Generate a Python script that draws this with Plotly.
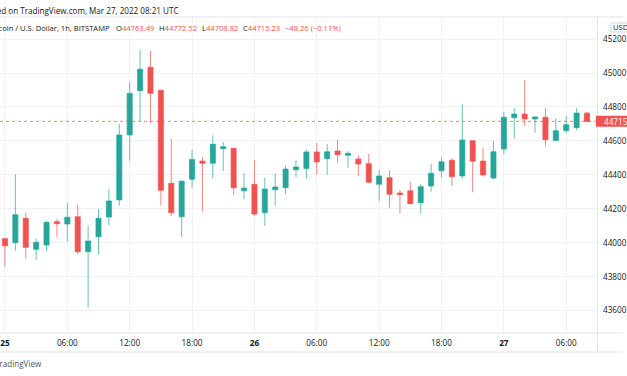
import plotly.graph_objects as go
import pandas as pd

# ---------------- data ----------------
times = pd.date_range("2022-03-25 00:00", periods=57, freq="h")

opens = [44024, 44000, 44144, 43961, 43986, 44124, 44110, 44153, 43947, 44035,
         44151, 44252, 44635, 44896, 45034, 44898, 44350, 44153, 44374, 44481,
         44468, 44554, 44556, 44306, 44344, 44177, 44312, 44324, 44430, 44438,
         44535, 44495, 44540, 44515, 44493, 44466, 44344, 44383, 44293, 44306,
         44236, 44334, 44424, 44486, 44393, 44601, 44481, 44381, 44552, 44737,
         44758, 44729, 44739, 44603, 44660, 44678, 44763.49]
highs = [44032, 44403, 44177, 44024, 44128, 44140, 44236, 44224, 44100, 44197,
         44316, 44700, 44947, 45136, 45130, 44900, 44611, 44368, 44546, 44505,
         44633, 44593, 44560, 44409, 44487, 44383, 44409, 44456, 44489, 44550,
         44588, 44582, 44605, 44540, 44515, 44523, 44428, 44428, 44311, 44358,
         44344, 44466, 44501, 44497, 44817, 44605, 44560, 44601, 44772, 44794,
         44959, 44745, 44792, 44733, 44745, 44792, 44772.52]
lows = [43859, 43953, 43906, 43898, 43951, 44035, 44006, 43932, 43619, 43932,
        44103, 44218, 44483, 44717, 44704, 44220, 44157, 44035, 44324, 44183,
        44380, 44422, 44281, 44256, 44157, 44100, 44218, 44287, 44387, 44377,
        44401, 44401, 44471, 44442, 44391, 44350, 44247, 44206, 44173, 44226,
        44171, 44301, 44385, 44334, 44377, 44297, 44389, 44375, 44523, 44613,
        44689, 44648, 44570, 44598, 44645, 44662, 44708.82]
closes = [43982, 44165, 43973, 44002, 44120, 44112, 44150, 43947, 44010, 44144,
          44246, 44635, 44880, 45022, 44880, 44309, 44177, 44362, 44491, 44468,
          44580, 44566, 44324, 44322, 44169, 44316, 44328, 44434, 44446, 44535,
          44476, 44536, 44519, 44527, 44464, 44356, 44393, 44285, 44283, 44230,
          44330, 44409, 44477, 44389, 44605, 44480, 44399, 44536, 44739, 44758,
          44729, 44741, 44607, 44660, 44695, 44764, 44715.23]

last_price = 44715.23

time_ticks = ["2022-03-25 00:00", "2022-03-25 06:00", "2022-03-25 12:00", "2022-03-25 18:00",
              "2022-03-26 00:00", "2022-03-26 06:00", "2022-03-26 12:00", "2022-03-26 18:00",
              "2022-03-27 00:00", "2022-03-27 06:00"]
time_labels = ["<b>25</b>", "06:00", "12:00", "18:00", "<b>26</b>", "06:00", "12:00",
               "18:00", "<b>27</b>", "06:00"]
price_ticks = [43600, 43800, 44000, 44200, 44400, 44600, 44800, 45000, 45200]

published_text = "Published on TradingView.com, Mar 27, 2022 08:21 UTC"
symbol_text = "Bitcoin / U.S. Dollar, 1h, BITSTAMP"
ohlc_labels = ["O", "H", "L", "C"]
ohlc_values = ["44763.49", "44772.52", "44708.82", "44715.23"]
change_text = "\u221248.26 (\u22120.11%)"
footer_text = "TradingView"

# ---------------- style ----------------
UP = "#26a69a"
DOWN = "#ef5350"
GRID = "#f0f1f4"
BORDER = "#e0e3eb"
TEXT = "#131722"
FONT = "Open Sans"
FS_AX = 8.2
FS_HEAD = 8.1
FS_OHLC = 7.6

W, H = 627, 376
L, R, T, B = 0, 26, 17, 43
PW, PH = W - L - R, H - T - B


def px(x):
    return (x - L) / PW


def py(y):
    return (H - B - y) / PH


# pixel height of one price unit (for the last-price tag box)
Y0, Y1 = 43468, 45330
unit_px = PH / (Y1 - Y0)

fig = go.Figure(go.Candlestick(
    x=times, open=opens, high=highs, low=lows, close=closes,
    increasing=dict(line=dict(color="rgba(38,166,154,0.7)", width=1), fillcolor=UP),
    decreasing=dict(line=dict(color="rgba(239,83,80,0.7)", width=1), fillcolor=DOWN),
    whiskerwidth=0, showlegend=False, hoverinfo="skip",
))

shapes = [
    dict(type="line", xref="paper", yref="y", x0=0, x1=1, y0=last_price, y1=last_price,
         line=dict(color="rgba(239,83,80,0.75)", width=1, dash="dot")),
    dict(type="line", xref="paper", yref="paper", x0=px(0), x1=px(W), y0=py(17), y1=py(17),
         line=dict(color=BORDER, width=1)),
    dict(type="line", xref="paper", yref="paper", x0=px(0), x1=px(W), y0=py(333), y1=py(333),
         line=dict(color=BORDER, width=1)),
    dict(type="line", xref="paper", yref="paper", x0=px(0), x1=px(W), y0=py(352), y1=py(352),
         line=dict(color=BORDER, width=1)),
    dict(type="line", xref="paper", yref="paper", x0=px(601.5), x1=px(601.5), y0=py(17), y1=py(352),
         line=dict(color=BORDER, width=1)),
    dict(type="rect", xref="paper", yref="paper", x0=px(615), x1=px(640), y0=py(32), y1=py(23),
         line=dict(color="#d1d4dc", width=1), fillcolor="white"),
    dict(type="rect", xref="paper", yref="y", x0=px(600), x1=px(640),
         y0=last_price - 5.5 / unit_px, y1=last_price + 5.5 / unit_px,
         line=dict(width=0), fillcolor=DOWN),
]

annotations = [
    dict(text=published_text, xref="paper", yref="paper", x=px(182), y=py(10),
         xanchor="right", yanchor="middle", showarrow=False,
         font=dict(family=FONT, size=FS_HEAD, color=TEXT)),
    dict(text=symbol_text, xref="paper", yref="paper", x=px(113), y=py(28),
         xanchor="right", yanchor="middle", showarrow=False,
         font=dict(family=FONT, size=FS_OHLC, color=TEXT)),
    dict(text=change_text, xref="paper", yref="paper", x=px(285), y=py(28),
         xanchor="left", yanchor="middle", showarrow=False,
         font=dict(family=FONT, size=FS_OHLC, color=DOWN)),
    dict(text=footer_text, xref="paper", yref="paper", x=px(44), y=py(363),
         xanchor="right", yanchor="middle", showarrow=False,
         font=dict(family=FONT, size=FS_HEAD, color="#50535e")),
    dict(text="USD", xref="paper", yref="paper", x=px(615), y=py(27.5),
         xanchor="left", yanchor="middle", showarrow=False,
         font=dict(family=FONT, size=FS_OHLC, color=TEXT)),
    dict(text=f"{last_price:.2f}", xref="paper", yref="y", x=px(606), y=last_price,
         xanchor="left", yanchor="middle", showarrow=False,
         font=dict(family=FONT, size=FS_AX, color="white")),
]
for i, (lab, val) in enumerate(zip(ohlc_labels, ohlc_values)):
    annotations.append(dict(
        text=f"{lab}<span style='color:{DOWN}'>{val}</span>", xref="paper", yref="paper",
        x=px([115, 158, 201, 243][i]), y=py(28), xanchor="left", yanchor="middle",
        showarrow=False, font=dict(family=FONT, size=FS_OHLC, color=TEXT)))

fig.update_layout(
    width=W, height=H, autosize=False,
    margin=dict(l=L, r=R, t=T, b=B, pad=0),
    paper_bgcolor="white", plot_bgcolor="white",
    font=dict(family=FONT, size=FS_AX, color=TEXT),
    shapes=shapes, annotations=annotations,
    xaxis=dict(
        type="date", range=["2022-03-24 23:31:20", "2022-03-27 08:57:40"],
        rangeslider=dict(visible=False),
        tickvals=time_ticks, ticktext=time_labels, ticks="", ticklen=0,
        showgrid=True, gridcolor=GRID, gridwidth=1, zeroline=False, showline=False,
        tickfont=dict(family=FONT, size=FS_AX, color=TEXT), ticklabelstandoff=4,
    ),
    yaxis=dict(
        side="right", range=[Y0, Y1], tickvals=price_ticks,
        ticktext=[str(v) for v in price_ticks], ticks="", ticklen=0,
        showgrid=True, gridcolor=GRID, gridwidth=1, zeroline=False, showline=False,
        tickfont=dict(family=FONT, size=FS_AX, color=TEXT), ticklabelstandoff=5,
    ),
)

fig.write_html("out.html", config={"displayModeBar": False},
               post_script="document.body.style.margin='0';")
